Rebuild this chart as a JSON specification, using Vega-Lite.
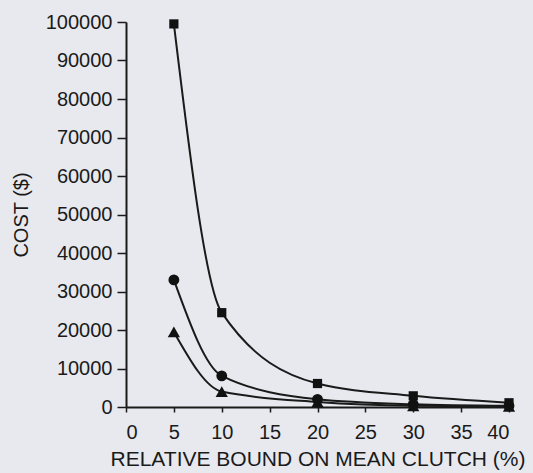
{
  "$schema": "https://vega.github.io/schema/vega-lite/v6.json",
  "width": 383,
  "height": 385,
  "autosize": {"type": "none"},
  "padding": {"left": 126, "top": 22, "right": 24, "bottom": 66},
  "background": "#e7e9ef",
  "config": {
    "view": {"stroke": null},
    "font": "Liberation Sans",
    "axis": {"grid": false, "domainColor": "#1a1a1a", "tickColor": "#1a1a1a", "labelColor": "#1a1a1a", "titleColor": "#1a1a1a", "labelFont": "Liberation Sans", "titleFont": "Liberation Sans", "titleFontWeight": "normal", "labelFontSize": 20, "titleFontSize": 20, "domainWidth": 2, "tickWidth": 1.5}
  },
  "data": {"values": [
    {"bound": 5, "cost": 99500, "series": "A"},
    {"bound": 10, "cost": 24500, "series": "A"},
    {"bound": 20, "cost": 6100, "series": "A"},
    {"bound": 30, "cost": 2900, "series": "A"},
    {"bound": 40, "cost": 1100, "series": "A"},
    {"bound": 5, "cost": 33000, "series": "B"},
    {"bound": 10, "cost": 8100, "series": "B"},
    {"bound": 20, "cost": 2000, "series": "B"},
    {"bound": 30, "cost": 700, "series": "B"},
    {"bound": 40, "cost": 300, "series": "B"},
    {"bound": 5, "cost": 19500, "series": "C"},
    {"bound": 10, "cost": 4000, "series": "C"},
    {"bound": 20, "cost": 1300, "series": "C"},
    {"bound": 30, "cost": 300, "series": "C"},
    {"bound": 40, "cost": 150, "series": "C"}
  ]},
  "encoding": {
    "x": {"field": "bound", "type": "quantitative", "scale": {"domain": [0, 40], "nice": false},
      "axis": {"values": [0,5,10,15,20,25,30,35,40], "title": "RELATIVE BOUND ON MEAN CLUTCH (%)", "titleFontSize": 21, "tickSize": 5, "labelPadding": 10, "titlePadding": 6}},
    "y": {"field": "cost", "type": "quantitative", "scale": {"domain": [0, 100000], "nice": false},
      "axis": {"values": [0,10000,20000,30000,40000,50000,60000,70000,80000,90000,100000], "format": "d", "title": "COST ($)", "tickSize": 9, "labelPadding": 5, "titlePadding": 14}}
  },
  "layer": [
    {"mark": {"type": "line", "interpolate": "monotone", "color": "#1a1a1a", "strokeWidth": 2}, "encoding": {"detail": {"field": "series"}}},
    {"mark": {"type": "point", "filled": true, "opacity": 1, "color": "#111111"},
      "encoding": {
        "shape": {"field": "series", "type": "nominal", "scale": {"domain": ["A","B","C"], "range": ["square","circle","triangle-up"]}, "legend": null},
        "size": {"field": "series", "type": "nominal", "scale": {"domain": ["A","B","C"], "range": [85, 150, 110]}, "legend": null}
      }}
  ]
}
